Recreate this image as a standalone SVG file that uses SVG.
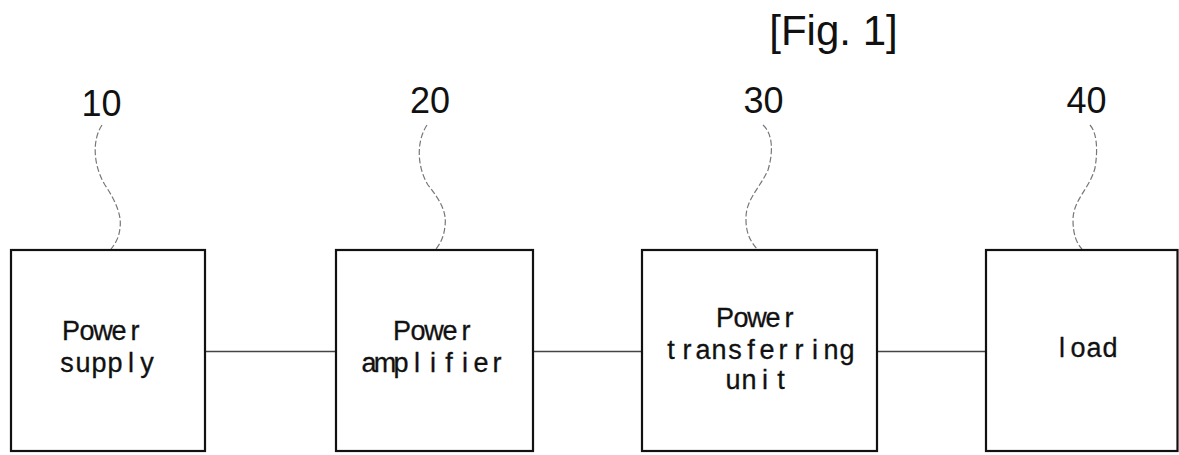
<svg xmlns="http://www.w3.org/2000/svg" width="1179" height="455" viewBox="0 0 1179 455">
<style>
.box{fill:#fff;stroke:#111;stroke-width:2.2}
.t{font-family:"Liberation Sans",Arial,sans-serif;font-size:27px;fill:#111;stroke:#111;stroke-width:0.3;text-anchor:middle}
.num{font-family:"Liberation Sans",Arial,sans-serif;font-size:36px;fill:#111;text-anchor:middle}
.fig{font-family:"Liberation Sans",Arial,sans-serif;font-size:42px;fill:#111;text-anchor:middle}
.lead{fill:none;stroke:#777;stroke-width:1.2;stroke-dasharray:6 2.5}
.conn{stroke:#444;stroke-width:1.5;fill:none}
</style>
<rect width="1179" height="455" fill="#fff"/>
<text class="fig" x="833.5" y="45">[Fig. 1]</text>
<g id="connectors">
<line class="conn" x1="205" y1="351.5" x2="336" y2="351.5"/>
<line class="conn" x1="533" y1="351.5" x2="642" y2="351.5"/>
<line class="conn" x1="877" y1="351.5" x2="986" y2="351.5"/>
</g>
<g id="node10">
<text class="num" x="101.5" y="116">10</text>
<path class="lead" d="M102,125 C92,140 93,165 105,185 C115,200 122,215 120,228 C119,238 115,244 111,249"/>
<rect class="box" x="11" y="250" width="194" height="201"/>
<text class="t" x="71 87 103 119 135" y="339.5">Power</text>
<text class="t" x="67 83 99 115 131 147" y="371.5">supply</text>
</g>
<g id="node20">
<text class="num" x="430" y="113">20</text>
<path class="lead" d="M427,125 C417,140 416,165 428,185 C440,200 447,212 445,226 C444,237 440,244 436,249"/>
<rect class="box" x="336" y="250" width="197" height="201"/>
<text class="t" x="402 418 434 450 466" y="339.5">Power</text>
<text class="t" x="369 385 401 417 433 449 465 481 497" y="371.5">amplifier</text>
</g>
<g id="node30">
<text class="num" x="763.5" y="113">30</text>
<path class="lead" d="M763,125 C772,133 774,150 768,170 C760,188 745,200 746,220 C746,235 752,243 757,249"/>
<rect class="box" x="642" y="250" width="235" height="201"/>
<text class="t" x="725 741 757 773 789" y="326.5">Power</text>
<text class="t" x="671 687 703 719 735 751 767 783 799 815 831 847" y="358.5">transferring</text>
<text class="t" x="733 749 765 781" y="388.5">unit</text>
</g>
<g id="node40">
<text class="num" x="1086.5" y="113">40</text>
<path class="lead" d="M1090,125 C1097,133 1098,150 1095,168 C1090,188 1073,200 1073,220 C1073,235 1077,244 1082,249"/>
<rect class="box" x="986" y="250" width="191.5" height="201"/>
<text class="t" x="1062 1078 1094 1110" y="357">load</text>
</g>
</svg>
